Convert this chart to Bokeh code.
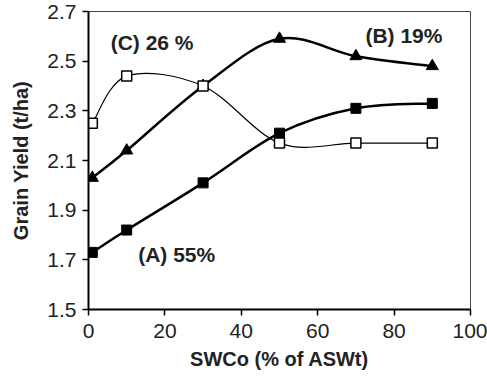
from bokeh.plotting import figure
from bokeh.models import Range1d, FixedTicker
from bokeh.core.properties import value
from bokeh.embed import file_html
from bokeh.resources import INLINE

# ---- data ----
swco = [1, 10, 30, 50, 70, 90]
yield_a = [1.73, 1.82, 2.01, 2.21, 2.31, 2.33]
yield_b = [2.03, 2.14, 2.40, 2.59, 2.52, 2.48]
yield_c = [2.25, 2.44, 2.40, 2.17, 2.17, 2.17]

label_text = ["(A) 55%", "(B) 19%", "(C) 26 %"]
label_x = [13, 72.5, 5.8]
label_y = [1.72, 2.605, 2.575]

x_ticks = [0, 20, 40, 60, 80, 100]
y_ticks = [1.5, 1.7, 1.9, 2.1, 2.3, 2.5, 2.7]

FONT = "Liberation Sans"


def bezier_segments(xs, ys, t=1.0):
    """Catmull-Rom -> cubic bezier control points through the data points."""
    n = len(xs)
    px = [xs[0]] + list(xs) + [xs[-1]]
    py = [ys[0]] + list(ys) + [ys[-1]]
    out = dict(x0=[], y0=[], x1=[], y1=[], cx0=[], cy0=[], cx1=[], cy1=[])
    for i in range(1, n):
        x0, y0 = px[i], py[i]
        x1, y1 = px[i + 1], py[i + 1]
        out["x0"].append(x0); out["y0"].append(y0)
        out["x1"].append(x1); out["y1"].append(y1)
        out["cx0"].append(x0 + (px[i + 1] - px[i - 1]) / 6 * t)
        out["cy0"].append(y0 + (py[i + 1] - py[i - 1]) / 6 * t)
        out["cx1"].append(x1 - (px[i + 2] - px[i]) / 6 * t)
        out["cy1"].append(y1 - (py[i + 2] - py[i]) / 6 * t)
    return out


p = figure(width=487, height=376, output_backend="svg", toolbar_location=None,
           x_range=Range1d(0, 100), y_range=Range1d(1.5, 2.7),
           min_border_left=88, min_border_right=17, min_border_top=11, min_border_bottom=67)

p.grid.visible = False
p.background_fill_color = "white"
p.border_fill_color = "white"
p.outline_line_color = "#444444"
p.outline_line_width = 1

# curves
for ys, w in [(yield_c, 1.2), (yield_b, 2.5), (yield_a, 2.5)]:
    seg = bezier_segments(swco, ys)
    p.bezier(x0=seg["x0"], y0=seg["y0"], x1=seg["x1"], y1=seg["y1"],
             cx0=seg["cx0"], cy0=seg["cy0"], cx1=seg["cx1"], cy1=seg["cy1"],
             line_color="black", line_width=w)

p.scatter(swco, yield_a, marker="square", size=10, fill_color="black", line_color="black")
p.scatter(swco, yield_b, marker="triangle", size=12, fill_color="black", line_color="black")
p.scatter(swco, yield_c, marker="square", size=10, fill_color="white", line_color="black", line_width=1.5)

p.text(x=label_x, y=label_y, text=label_text, text_font=value(FONT),
       text_font_style="bold", text_font_size="21px", text_align="left",
       text_baseline="middle", text_color="#222222")

# axes
for ax in (p.xaxis[0], p.yaxis[0]):
    ax.axis_line_width = 2
    ax.axis_line_color = "black"
    ax.major_tick_line_width = 1.5
    ax.major_tick_line_color = "black"
    ax.major_tick_out = 6
    ax.major_tick_in = 0
    ax.minor_tick_line_color = None
    ax.major_label_text_font = FONT
    ax.major_label_text_font_size = "21px"
    ax.major_label_text_color = "#222222"
    ax.axis_label_text_font = FONT
    ax.axis_label_text_font_style = "bold"
    ax.axis_label_text_font_size = "20px"
    ax.axis_label_text_color = "#222222"

p.xaxis.ticker = FixedTicker(ticks=x_ticks)
p.yaxis.ticker = FixedTicker(ticks=y_ticks)
p.xaxis.axis_label = "SWCo (% of ASWt)"
p.yaxis.axis_label = "Grain Yield (t/ha)"
p.xaxis.major_label_standoff = 8
p.yaxis.major_label_standoff = 6
p.xaxis.axis_label_standoff = 7
p.yaxis.axis_label_standoff = 12

open("out.html", "w").write(file_html(p, INLINE))
